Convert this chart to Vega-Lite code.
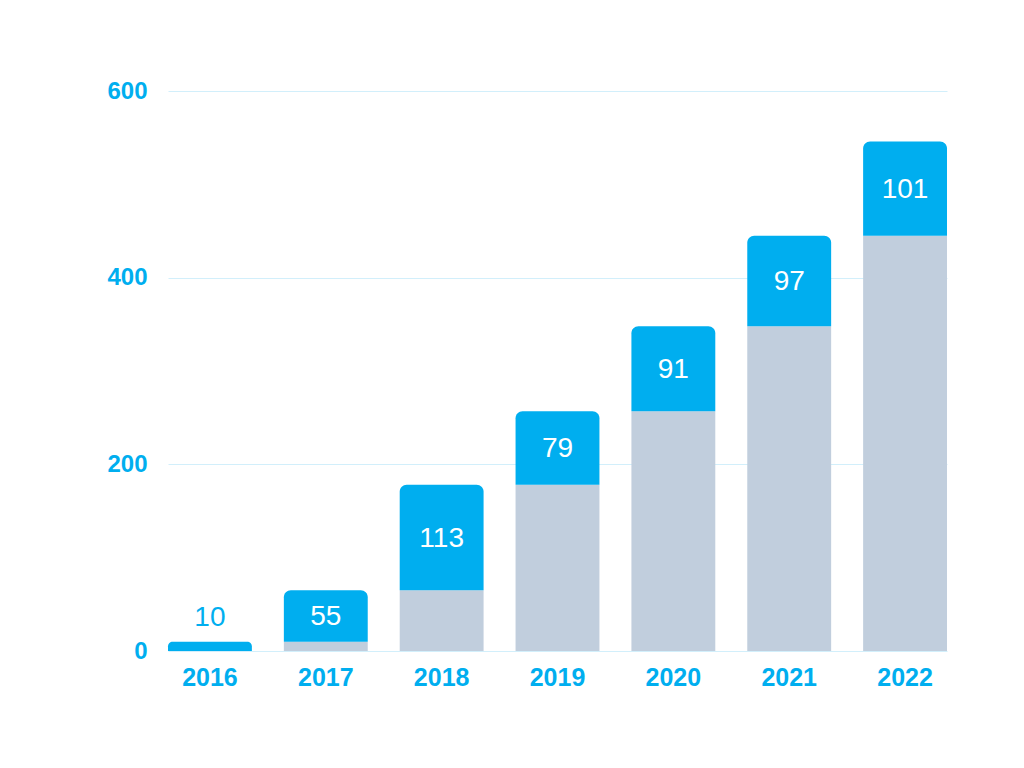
{
  "$schema": "https://vega.github.io/schema/vega-lite/v6.json",
  "width": 779,
  "height": 560,
  "autosize": {"type": "none"},
  "padding": {"left": 168, "top": 91, "right": 77, "bottom": 117},
  "background": "white",
  "config": {"view": {"stroke": null}, "font": "Liberation Sans"},
  "data": {
    "values": [
      {"year": "2016", "base": 0, "increment": 10, "total": 10},
      {"year": "2017", "base": 10, "increment": 55, "total": 65},
      {"year": "2018", "base": 65, "increment": 113, "total": 178},
      {"year": "2019", "base": 178, "increment": 79, "total": 257},
      {"year": "2020", "base": 257, "increment": 91, "total": 348},
      {"year": "2021", "base": 348, "increment": 97, "total": 445},
      {"year": "2022", "base": 445, "increment": 101, "total": 546}
    ]
  },
  "encoding": {
    "x": {
      "field": "year",
      "type": "nominal",
      "scale": {"paddingInner": 0.276, "paddingOuter": 0},
      "axis": {
        "title": null,
        "labelAngle": 0,
        "domain": false,
        "ticks": false,
        "labelPadding": 14,
        "labelFont": "Liberation Sans",
        "labelFontWeight": "bold",
        "labelFontSize": 25,
        "labelColor": "#00AEEF"
      }
    }
  },
  "layer": [
    {
      "mark": {"type": "bar", "color": "#C1CEDD"},
      "encoding": {
        "y": {
          "field": "base",
          "type": "quantitative",
          "scale": {"domain": [0, 600]},
          "axis": {
            "title": null,
            "values": [0, 200, 400, 600],
            "domain": false,
            "ticks": false,
            "labelPadding": 21,
            "labelFont": "Liberation Sans",
            "labelFontWeight": "bold",
            "labelFontSize": 24,
            "labelColor": "#00AEEF",
            "gridColor": "#D2EFFB",
            "gridWidth": 1
          }
        }
      }
    },
    {
      "mark": {"type": "bar", "color": "#00AEEF", "cornerRadiusTopLeft": 7, "cornerRadiusTopRight": 7},
      "encoding": {
        "y": {"field": "total", "type": "quantitative"},
        "y2": {"field": "base"}
      }
    },
    {
      "transform": [
        {"filter": "datum.year != '2016'"},
        {"calculate": "(datum.base + datum.total) / 2", "as": "mid"}
      ],
      "mark": {"type": "text", "color": "white", "fontSize": 28, "baseline": "middle", "align": "center", "dy": 1},
      "encoding": {
        "y": {"field": "mid", "type": "quantitative"},
        "text": {"field": "increment", "type": "quantitative"}
      }
    },
    {
      "transform": [{"filter": "datum.year == '2016'"}],
      "mark": {"type": "text", "color": "#00AEEF", "fontSize": 28, "baseline": "middle", "align": "center", "dy": -24},
      "encoding": {
        "y": {"field": "total", "type": "quantitative"},
        "text": {"field": "increment", "type": "quantitative"}
      }
    }
  ]
}
